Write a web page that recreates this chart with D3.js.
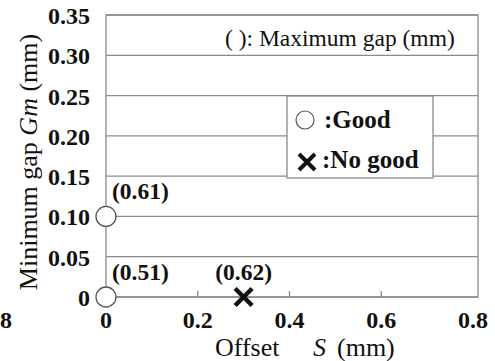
<!DOCTYPE html>
<html>
<head>
<meta charset="utf-8">
<script src="https://cdn.jsdelivr.net/npm/d3@7/dist/d3.min.js"></script>
<style>
  html, body { margin: 0; padding: 0; background: #fff; }
  svg { display: block; }
</style>
</head>
<body>
<svg id="chart" width="495" height="361"></svg>
<script>
// Gap measurements: offset S vs minimum gap Gm, with maximum gap in brackets
const offsets    = [0, 0, 0.3];
const minGaps    = [0.10, 0, 0];
const maxGaps    = [0.61, 0.51, 0.62];
const results    = ["good", "good", "nogood"];
const xTicks     = [0, 0.2, 0.4, 0.6, 0.8];
const yTicks     = [0, 0.05, 0.10, 0.15, 0.20, 0.25, 0.30, 0.35];

const FONT = "Liberation Serif";
const svg = d3.select("#chart");
const x = d3.scaleLinear().domain([0, 0.8]).range([106, 473]);
const y = d3.scaleLinear().domain([0, 0.35]).range([297, 15]);
const plotRight = x(0.8) + 5;   // frame sits slightly beyond the last tick
const ink = "#111";
const gridCol = "#8a8a8a";

// helper: serif text element
const addText = (sel) => sel.append("text").attr("font-family", FONT).attr("fill", ink);

// horizontal gridlines
svg.append("g").selectAll("line").data(yTicks).join("line")
  .attr("x1", x(0)).attr("x2", plotRight)
  .attr("y1", d => y(d)).attr("y2", d => y(d))
  .attr("stroke", gridCol).attr("stroke-width", 1.3);

// frame
svg.append("rect")
  .attr("x", x(0)).attr("y", y(0.35))
  .attr("width", plotRight - x(0)).attr("height", y(0) - y(0.35))
  .attr("fill", "none").attr("stroke", gridCol).attr("stroke-width", 1.3);

// small inward ticks on the offset axis
svg.append("g").selectAll("line").data(xTicks.slice(1, -1)).join("line")
  .attr("x1", d => x(d)).attr("x2", d => x(d))
  .attr("y1", y(0)).attr("y2", y(0) - 6)
  .attr("stroke", gridCol).attr("stroke-width", 1.3);

// y tick labels
svg.append("g").selectAll("text").data(yTicks).join("text")
  .attr("font-family", FONT)
  .attr("x", 90).attr("y", d => y(d) + 9)
  .attr("text-anchor", "end")
  .attr("font-size", 24).attr("font-weight", "bold").attr("fill", ink)
  .text(d => d === 0 ? "0" : d.toFixed(2));

// x tick labels
svg.append("g").selectAll("text").data(xTicks).join("text")
  .attr("font-family", FONT)
  .attr("x", d => x(d)).attr("y", 328)
  .attr("text-anchor", "middle")
  .attr("font-size", 24).attr("font-weight", "bold").attr("fill", ink)
  .text(d => d === 0 ? "0" : d.toFixed(1));

// tail of the neighbouring panel's last tick label at the left edge
addText(svg).attr("x", 0).attr("y", 328)
  .attr("font-size", 24).attr("font-weight", "bold")
  .text("8");

// x axis title
const xt = addText(svg).attr("x", 215).attr("y", 356).attr("font-size", 26);
xt.append("tspan").text("Offset");
xt.append("tspan").attr("x", 313).attr("font-style", "italic").text("S");
xt.append("tspan").attr("x", 337).text("(mm)");

// y axis title
const yt = addText(svg)
  .attr("transform", "translate(37,162) rotate(-90)")
  .attr("text-anchor", "middle")
  .attr("font-size", 26);
yt.append("tspan").text("Minimum gap ");
yt.append("tspan").attr("font-style", "italic").text("Gm");
yt.append("tspan").text(" (mm)");

// note on bracketed values
addText(svg).attr("x", 225).attr("y", 46)
  .attr("font-size", 23.5)
  .text("( ): Maximum gap (mm)");

// legend
const lg = svg.append("g");
lg.append("rect").attr("x", 287).attr("y", 96).attr("width", 146).attr("height", 82)
  .attr("fill", "#fff").attr("stroke", gridCol).attr("stroke-width", 1.3);
lg.append("circle").attr("cx", 305).attr("cy", 120).attr("r", 9)
  .attr("fill", "#fff").attr("stroke", "#555").attr("stroke-width", 1.2);
addText(lg).attr("x", 324).attr("y", 128)
  .attr("font-size", 25).attr("font-weight", "bold").text(":Good");
const lx = 307, ly = 162, ls = 8;
lg.append("path")
  .attr("d", `M${lx - ls},${ly - ls}L${lx + ls},${ly + ls}M${lx - ls},${ly + ls}L${lx + ls},${ly - ls}`)
  .attr("stroke", ink).attr("stroke-width", 4);
addText(lg).attr("x", 322).attr("y", 168)
  .attr("font-size", 25).attr("font-weight", "bold").text(":No good");

// data points
const pts = offsets.map((s, i) => ({ s, g: minGaps[i], max: maxGaps[i], r: results[i] }));
const pg = svg.append("g");
pg.selectAll("circle").data(pts.filter(d => d.r === "good")).join("circle")
  .attr("cx", d => x(d.s)).attr("cy", d => y(d.g)).attr("r", 10)
  .attr("fill", "#fff").attr("stroke", "#555").attr("stroke-width", 1.3);
const cs = 8.5;
pg.selectAll("path").data(pts.filter(d => d.r === "nogood")).join("path")
  .attr("d", d => {
    const cx = x(d.s), cy = y(d.g);
    return `M${cx - cs},${cy - cs}L${cx + cs},${cy + cs}M${cx - cs},${cy + cs}L${cx + cs},${cy - cs}`;
  })
  .attr("stroke", ink).attr("stroke-width", 4.5);

// bracketed maximum gap labels
pg.selectAll("text").data(pts).join("text")
  .attr("font-family", FONT)
  .attr("x", d => d.s === 0 ? x(d.s) + 6 : x(d.s))
  .attr("y", d => y(d.g) - 17)
  .attr("text-anchor", d => d.s === 0 ? "start" : "middle")
  .attr("font-size", 23.5).attr("font-weight", "bold").attr("fill", ink)
  .text(d => `(${d.max.toFixed(2)})`);
</script>
</body>
</html>
